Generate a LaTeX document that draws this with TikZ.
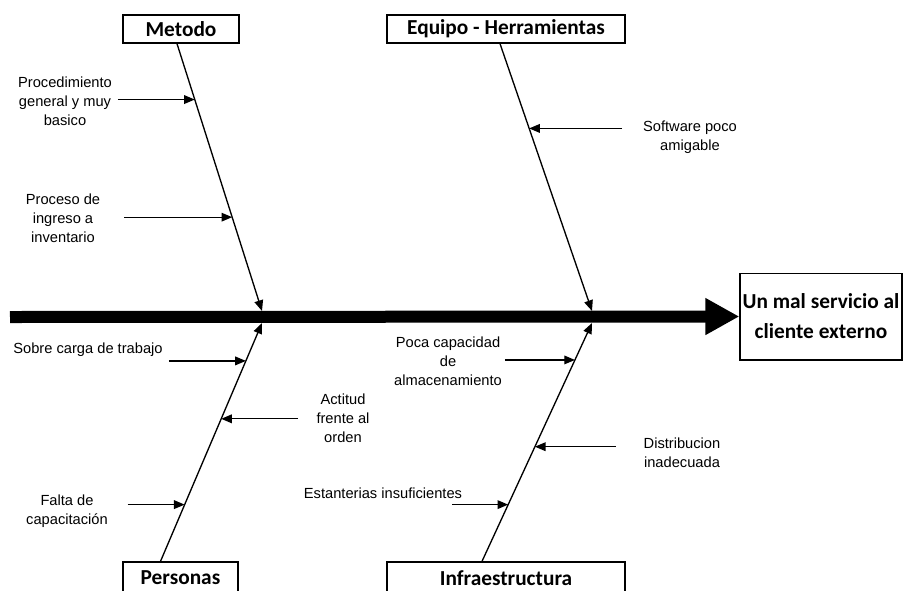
\documentclass[tikz,border=0pt]{standalone}
\usepackage{fontspec}
\setmainfont{Liberation Sans}
\newfontfamily\cajafont{Carlito}
\usetikzlibrary{positioning}
\usetikzlibrary{calc}
\usetikzlibrary{arrows.meta}

\begin{document}
\begin{tikzpicture}[x=0.75pt,y=-0.75pt,>={Triangle[length=8pt,width=6.5pt]},
  caja/.style={draw,line width=1pt,inner sep=0pt,font=\cajafont\bfseries\fontsize{16}{22.5}\selectfont},
  causa/.style={align=center,inner sep=0pt,font=\fontsize{11}{14.25}\selectfont},
  hueso/.style={line width=1pt,->},
  flecha/.style={line width=1pt,->}]
  \clip (0,0) rectangle (903,590);
  % categorias
  \node[caja,minimum width=87pt,minimum height=21pt]     (metodo)   at (181,29)    {Metodo};
  \node[caja,minimum width=178.5pt,minimum height=21pt]  (equipo)   at (506,29)    {Equipo - Herramientas};
  \node[caja,minimum width=86.25pt,minimum height=24pt]  (personas) at (180.5,578) {Personas};
  \node[caja,minimum width=178.5pt,minimum height=24pt]  (infra)    at (506,578)   {Infraestructura};
  \node[caja,minimum width=121.5pt,minimum height=65pt,align=center] (efecto) at (821,316.5) {Un mal servicio al\\cliente externo};
  %
  % espina
  \coordinate (cola) at (10,317);
  \draw[line width=9pt,-{Triangle[length=25.5pt,width=26pt]}] (cola) -- (efecto.west);
  %
  % huesos
  \coordinate (m0) at ([xshift=-3pt]metodo.south);
  \coordinate (e0) at ([xshift=-4.5pt]equipo.south);
  \coordinate (p0) at ([xshift=-15pt]personas.north);
  \coordinate (i0) at ([xshift=-18pt]infra.north);
  \coordinate (mp) at (262,311);
  \coordinate (ep) at (592,311);
  \coordinate (pp) at (262,323);
  \coordinate (ip) at (592,323);
  \draw[hueso] (m0) -- (mp);
  \draw[hueso] (e0) -- (ep);
  \draw[hueso] (p0) -- (pp);
  \draw[hueso] (i0) -- (ip);
  %
  % causas
  \node[causa] (t1) at (65,101)  {Procedimiento\\general y muy\\basico};
  \node[causa] (t2) at (63,218)  {Proceso de\\ingreso a\\inventario};
  \node[causa] (t3) at (690,137) {Software poco\\amigable};
  \node[causa] (t4) at (88,350)  {Sobre carga de trabajo};
  \node[causa] (t5) at (343,418) {Actitud\\frente al\\orden};
  \node[causa] (t6) at (67,511)  {Falta de\\capacitación};
  \node[causa] (t7) at (448,361) {Poca capacidad\\de\\almacenamiento};
  \node[causa] (t8) at (682,453) {Distribucion\\inadecuada};
  \node[causa] (t9) at (383,493) {Estanterias insuficientes};
  %
  \coordinate (c1) at ($(m0)!0.209!(mp)$);
  \coordinate (c2) at ($(m0)!0.649!(mp)$);
  \coordinate (c3) at ($(e0)!0.317!(ep)$);
  \coordinate (c4) at ($(p0)!0.841!(pp)$);
  \coordinate (c5) at ($(p0)!0.598!(pp)$);
  \coordinate (c6) at ($(p0)!0.238!(pp)$);
  \coordinate (c7) at ($(i0)!0.845!(ip)$);
  \coordinate (c8) at ($(i0)!0.481!(ip)$);
  \coordinate (c9) at ($(i0)!0.238!(ip)$);
  \draw[flecha] ($(c1)+(-77,0)$) -- (c1);
  \draw[flecha] ($(c2)+(-108,0)$) -- (c2);
  \draw[flecha] ($(c3)+(93,0)$) -- (c3);
  \draw[flecha] ($(c4)+(-77,0)$) -- (c4);
  \draw[flecha] ($(c5)+(77,0)$) -- (c5);
  \draw[flecha] ($(c6)+(-57,0)$) -- (c6);
  \draw[flecha] ($(c7)+(-70,0)$) -- (c7);
  \draw[flecha] ($(c8)+(81,0)$) -- (c8);
  \draw[flecha] ($(c9)+(-56,0)$) -- (c9);
\end{tikzpicture}
\end{document}
